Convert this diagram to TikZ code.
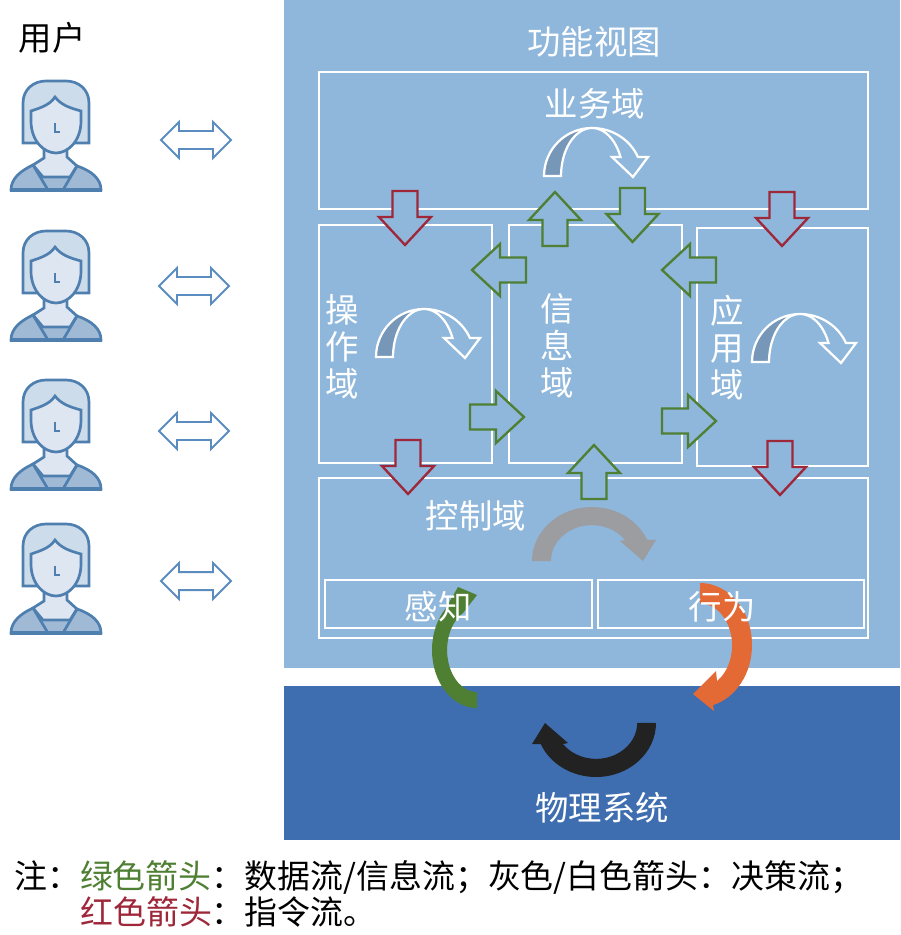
\documentclass[tikz,border=0pt]{standalone}
\usepackage{fontspec}
\setmainfont{Noto Sans CJK SC}
\usetikzlibrary{positioning}
\definecolor{panlight}{RGB}{143,183,219}
\definecolor{pandark}{RGB}{63,110,176}
\definecolor{bentfill}{RGB}{118,151,184}
\definecolor{cgreen}{RGB}{78,127,51}
\definecolor{cred}{RGB}{158,40,58}
\definecolor{cgray}{RGB}{155,157,161}
\definecolor{corange}{RGB}{227,106,53}
\definecolor{cblack}{RGB}{34,34,34}
\definecolor{uline}{RGB}{79,127,175}
\definecolor{uhair}{RGB}{205,220,235}
\definecolor{uface}{RGB}{222,230,242}
\definecolor{ubody}{RGB}{160,186,214}
\definecolor{dbl}{RGB}{91,140,192}
\tikzset{
  wbox/.style={draw=white, line width=1.9pt},
  garr/.style={draw=cgreen, fill=panlight, line width=2pt},
  rarr/.style={draw=cred, fill=panlight, line width=2pt},
  uln/.style={draw=uline, line width=2.3pt},
  lab/.style={font=\fontsize{28.5}{31.5}\selectfont, text=white, inner sep=0pt, align=center},
  note/.style={font=\fontsize{28.1}{31.5}\selectfont, text=black, inner sep=0pt, anchor=west},
  pics/blockarr/.style={code={
    \draw[#1, line join=miter] (-27,-12.5) -- (-1,-12.5) -- (-1,-26) -- (27,0) -- (-1,26) -- (-1,12.5) -- (-27,12.5) -- cycle;
  }},
  pics/dblarr/.style={code={
    \draw[draw=dbl, fill=white, line width=1.7pt] (-35,0) -- (-17,-18) -- (-17,-9) -- (17,-9) -- (17,-18) -- (35,0) -- (17,18) -- (17,9) -- (-17,9) -- (-17,18) -- cycle;
  }},
  pics/bentarr/.style={code={
    \fill[bentfill] (-48,0) arc[start angle=180, end angle=270, x radius=48, y radius=48]
      arc[start angle=270, end angle=180, x radius=31, y radius=48] -- cycle;
    \draw[white, line width=1.9pt] (-48,0) arc[start angle=180, end angle=270, x radius=48, y radius=48]
      arc[start angle=270, end angle=336.7, x radius=50, y radius=48]
      -- (56,-19) -- (41,1) -- (20,-19) -- (28.5,-19)
      arc[start angle=336.7, end angle=180, x radius=31, y radius=48] -- cycle;
  }},
  pics/roundarr/.style={code={
    \fill[#1] (-60,0) arc[start angle=180, end angle=337, x radius=60, y radius=54]
      -- (64,-21) -- (51,0) -- (28,-20) -- (33,-21)
      arc[start angle=324, end angle=180, x radius=41, y radius=36] -- cycle;
  }},
  pics/userfig/.style={code={
    \draw[uln, fill=uhair] (-33,62) -- (-33,22) .. controls (-33,8) and (-22,0) .. (-10,0)
      -- (10,0) .. controls (22,0) and (33,8) .. (33,22) -- (33,62) -- cycle;
    \draw[uln, fill=ubody] (-45,109) .. controls (-45,98) and (-36,90) .. (-23,84)
      -- (21,85) .. controls (36,90) and (45,98) .. (45,109) -- cycle;
    \draw[uln, fill=uface] (-12,68) -- (-12,77) -- (-23,84) -- (-13,96) -- (14,96) -- (21,85) -- (11,76) -- (11,68) -- cycle;
    \draw[uln] (-23,84) -- (-8,109) (21,85) -- (7,109);
    \draw[uln, line width=3pt] (-46,109) -- (46,109);
    \draw[uln, fill=uface] (-1,16) .. controls (-6,24) and (-16,27) .. (-25,30) -- (-25,40)
      .. controls (-25,60) and (-12,72) .. (0,72) .. controls (12,72) and (25,60) .. (25,40) -- (25,30)
      .. controls (14,27) and (5,24) .. (-1,16) -- cycle;
    \draw[uln] (-1,42) -- (-1,51) -- (4,51);
  }},
}
\begin{document}
\begin{tikzpicture}[x=0.03cm, y=-0.03cm]
  \useasboundingbox (0,0) rectangle (900,935);
  \fill[panlight] (284,0) rectangle (900,668);
  \fill[pandark] (284,686) rectangle (900,840);
  \draw[wbox] (319,72) rectangle (868,209);
  \draw[wbox] (319,225) rectangle (492,463);
  \draw[wbox] (509,225) rectangle (682,463);
  \draw[wbox] (697,228) rectangle (868,466);
  \draw[wbox] (319,478) rectangle (868,638);
  \draw[wbox] (325,580) rectangle (592,628);
  \draw[wbox] (598,580) rectangle (864,628);
  \foreach \py in {81,231,380,524}{\pic at (56,\py) {userfig};}
  \foreach \px/\py in {196/140,194/286,194/431,196/581}{\pic at (\px,\py) {dblarr};}
  \foreach \px/\py in {592/176,424/357,800/362}{\pic at (\px,\py) {bentarr};}
  \foreach \px/\py/\ang in {555/219/90,632.5/215/-90,499/270/180,497/417/0,689/270/180,689/421/0,594/472/90}{
    \pic[rotate=\ang] at (\px,\py) {blockarr=garr};}
  \foreach \px/\py in {405/218,782/219,408/467,780/468}{
    \pic[rotate=-90] at (\px,\py) {blockarr=rarr};}
  \pic at (592,561) {roundarr=cgray};
  \pic[rotate=180] at (596,723) {roundarr=cblack};
  \fill[cgreen] (477,708) arc[start angle=90, end angle=226, x radius=45, y radius=58]
    -- (458,587) -- (477,595) -- (463,613)
    arc[start angle=242, end angle=90, x radius=30, y radius=42] -- cycle;
  \fill[corange] (700,583) arc[start angle=-90, end angle=75.5, x radius=52, y radius=62]
    -- (714,711) -- (693,694) -- (716,671) -- (717,681)
    arc[start angle=58, end angle=-90, x radius=32, y radius=42] -- cycle;
  \node[lab, text=black] (lbluser) at (52,38) {用户};
  \node[lab] (lblfunc) at (594,42) {功能视图};
  \node[lab] (lblbiz) at (595,104) {业务域};
  \node[lab] (lblop) at (342,347) {操\\作\\域};
  \node[lab] (lblinfo) at (557,346) {信\\息\\域};
  \node[lab] (lblapp) at (727,348) {应\\用\\域};
  \node[lab] (lblctrl) at (476,516) {控制域};
  \node[lab] (lblsense) at (438,607) {感知};
  \node[lab] (lblact) at (722,607) {行为};
  \node[lab] (lblphys) at (602,808) {物理系统};
  \node[note] (noteone) at (14,877) {注：\textcolor{cgreen}{绿色箭头}：数据流/信息流；灰色/白色箭头：决策流；};
  \node[note] (notetwo) at (80,912) {\textcolor{cred}{红色箭头}：指令流。};
\end{tikzpicture}
\end{document}
